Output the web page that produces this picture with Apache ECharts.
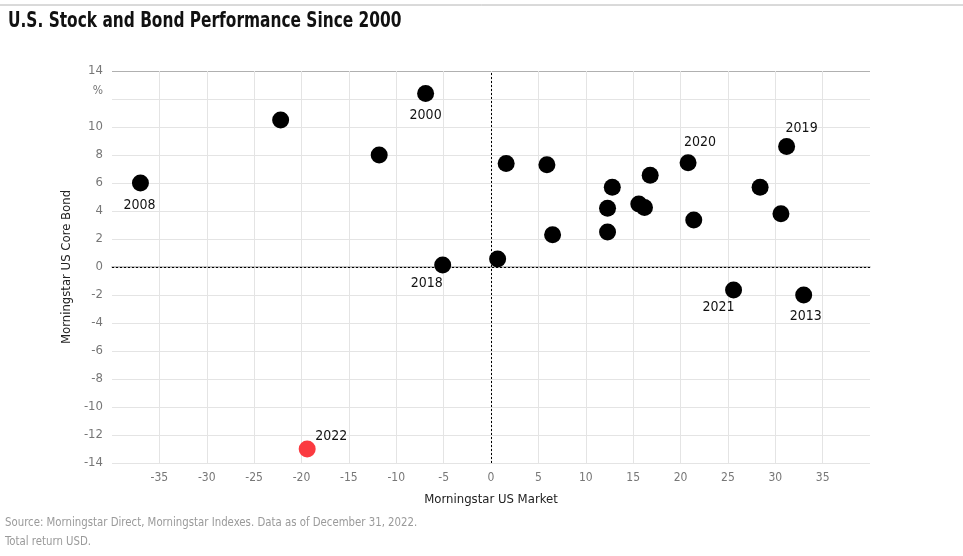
<!DOCTYPE html>
<html>
<head>
<meta charset="utf-8">
<script src="https://cdn.jsdelivr.net/npm/echarts@6/dist/echarts.min.js"></script>
<style>
html,body{margin:0;padding:0;background:#fff;}
#c{width:963px;height:556px;}
</style>
</head>
<body>
<div id="c"></div>
<script>
// Data
var years = [2000,2001,2002,2003,2004,2005,2006,2007,2008,2009,2010,2011,2012,2013,2014,2015,2016,2017,2018,2019,2020,2021,2022];
var stockReturns = [-6.9,-11.8,-22.2,30.6,12.3,6.5,15.6,5.9,-37.0,28.4,16.8,1.6,16.2,33.0,12.8,0.7,12.3,21.4,-5.1,31.2,20.8,25.6,-19.4];
var bondReturns  = [12.4,8.0,10.5,3.8,2.5,2.3,4.5,7.3,6.0,5.7,6.55,7.4,4.25,-2.0,5.7,0.57,4.2,3.35,0.14,8.6,7.45,-1.65,-13.0];
var labeledYears = [2000,2008,2013,2018,2019,2020,2021,2022];
var xTicks = [-35,-30,-25,-20,-15,-10,-5,0,5,10,15,20,25,30,35];
var yTicks = [-14,-12,-10,-8,-6,-4,-2,0,2,4,6,8,10,14];
var titleText = 'U.S. Stock and Bond Performance Since 2000';
var sourceLines = ['Source: Morningstar Direct, Morningstar Indexes. Data as of December 31, 2022.', 'Total return USD.'];

var FONT = "'Liberation Sans Narrow','DejaVu Sans Condensed','Roboto',sans-serif";
var highlightYear = 2022;
var labelOffsets = {2000:[0,22],2008:[-1,22],2013:[2,21],2018:[-16,18],2019:[15,-18],2020:[12,-20],2021:[-15,17],2022:[24,-13]};

var points = years.map(function(y,i){
  var item = {value:[stockReturns[i], bondReturns[i]], name:String(y)};
  if (y === highlightYear) item.itemStyle = {color:'#fb3a40'};
  if (labeledYears.indexOf(y) >= 0) {
    item.label = {show:true, position:'inside', offset:labelOffsets[y], formatter:String(y)};
  }
  return item;
});

var ySplitColors = [];
for (var v=-14; v<=14; v+=2) ySplitColors.push(v===14 ? '#b0b0b0' : '#e4e4e4');
var xSplitColors = [];
for (var w=-40; w<=40; w+=5) xSplitColors.push((w===-40||w===40) ? 'rgba(0,0,0,0)' : '#e4e4e4');

var chart = echarts.init(document.getElementById('c'), null, {renderer:'canvas'});
chart.setOption({
  animation:false,
  backgroundColor:'#fff',
  textStyle:{fontFamily:FONT},
  graphic:[
    {type:'line', shape:{x1:0,y1:5,x2:963,y2:5}, style:{stroke:'#b4b4b4', lineWidth:1}},
    {type:'text', x:8, y:11, scaleX:0.815, style:{text:titleText, fill:'#111', font:'bold 21px '+FONT, textVerticalAlign:'top'}},
    {type:'text', x:5, y:516, scaleX:0.87, style:{text:sourceLines[0], fill:'#9a9a9a', font:'13px '+FONT, textVerticalAlign:'top'}},
    {type:'text', x:5, y:535, scaleX:0.87, style:{text:sourceLines[1], fill:'#9a9a9a', font:'13px '+FONT, textVerticalAlign:'top'}}
  ],
  grid:{left:112, right:93, top:71, bottom:93},
  xAxis:{
    type:'value', min:-40, max:40, interval:5,
    name:'Morningstar US Market', nameLocation:'middle', nameGap:30,
    nameTextStyle:{fontFamily:FONT, fontSize:13, color:'#222'},
    axisLine:{show:true, lineStyle:{color:'#b0b0b0', width:1.5}},
    axisTick:{show:false},
    axisLabel:{color:'#777', fontSize:12, fontFamily:FONT, margin:9,
      formatter:function(v){ return xTicks.indexOf(v)>=0 ? String(v) : ''; }},
    splitLine:{show:true, lineStyle:{color:xSplitColors, width:1}}
  },
  yAxis:{
    type:'value', min:-14, max:14, interval:2,
    name:'Morningstar US Core Bond', nameLocation:'middle', nameGap:37,
    nameTextStyle:{fontFamily:FONT, fontSize:13, color:'#222'},
    axisLine:{show:false},
    axisTick:{show:false},
    axisLabel:{color:'#777', fontSize:13, fontFamily:FONT, margin:9,
      formatter:function(v){ if (v===12) return '{p|%}'; return yTicks.indexOf(v)>=0 ? String(v) : ''; },
      rich:{p:{color:'#777', fontSize:12, fontFamily:FONT, padding:[0,0,17,0]}}},
    splitLine:{show:true, lineStyle:{color:ySplitColors, width:1}}
  },
  series:[{
    type:'scatter',
    data:points,
    symbolSize:17,
    itemStyle:{color:'#000', opacity:1},
    label:{show:false, color:'#111', fontSize:14, fontFamily:FONT},
    markLine:{
      silent:true, symbol:'none', animation:false,
      label:{show:false},
      lineStyle:{type:[2,2], color:'#000', width:1},
      data:[{xAxis:0},{yAxis:0}]
    },
    z:3
  }]
});
</script>
</body>
</html>
